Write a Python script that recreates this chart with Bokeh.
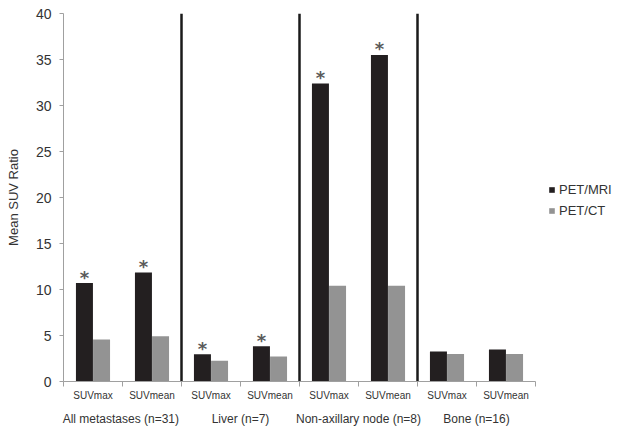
from bokeh.plotting import figure
from bokeh.models import (ColumnDataSource, FixedTicker, LinearAxis, Legend,
                          LegendItem, Range1d)
from bokeh.transform import dodge
from bokeh.core.properties import value
from bokeh.embed import file_html
from bokeh.resources import INLINE

# ---- data ----
measures = ["SUVmax", "SUVmean", "SUVmax", "SUVmean",
            "SUVmax", "SUVmean", "SUVmax", "SUVmean"]
groups = ["All metastases  (n=31)", "Liver (n=7)",
          "Non-axillary node (n=8)", "Bone (n=16)"]
pet_mri = [10.7, 11.85, 2.97, 3.84, 32.4, 35.5, 3.26, 3.48]
pet_ct = [4.56, 4.93, 2.25, 2.72, 10.4, 10.4, 3.0, 3.0]
significant = [True, True, True, True, True, True, False, False]
y_ticks = [0, 5, 10, 15, 20, 25, 30, 35, 40]

FONT = "Liberation Sans"
TXT = "#333333"
AX = "#a0a0a0"

pos = [i + 0.5 for i in range(len(measures))]
src = ColumnDataSource(dict(x=pos, mri=pet_mri, ct=pet_ct))
sig_x = [pos[i] for i in range(len(pos)) if significant[i]]
sig_y = [pet_mri[i] for i in range(len(pos)) if significant[i]]
star_src = ColumnDataSource(dict(x=sig_x, y=sig_y, t=["*"] * len(sig_x)))

p = figure(frame_width=472, frame_height=368,
           x_range=Range1d(0, len(measures)), y_range=Range1d(0, 40),
           output_backend="svg", toolbar_location=None,
           min_border_left=63, min_border_right=85,
           min_border_top=13, min_border_bottom=51)
p.grid.visible = False
p.outline_line_color = None
p.background_fill_color = "white"
p.border_fill_color = "white"

bw = 0.288
r_mri = p.vbar(x=dodge("x", -0.145, range=p.x_range), top="mri", width=bw,
               source=src, fill_color="#231f20", line_color=None)
r_ct = p.vbar(x=dodge("x", 0.145, range=p.x_range), top="ct", width=bw,
              source=src, fill_color="#939393", line_color=None)

p.text(x=dodge("x", -0.145, range=p.x_range), y="y", text="t", source=star_src,
       text_font=value("DejaVu Sans"), text_font_size="18px",
       text_font_style="bold",
       text_color="#5a5a5a", text_align="center", text_baseline="middle",
       y_offset=-6)

# group separators
sep_x = [2, 4, 6]
p.segment(x0=sep_x, x1=sep_x, y0=[0] * 3, y1=[40] * 3,
          line_color="#1a1a1a", line_width=2.5)

# y axis
ya = p.yaxis[0]
ya.ticker = FixedTicker(ticks=y_ticks)
ya.axis_label = "Mean SUV Ratio"
ya.axis_label_text_font = FONT
ya.axis_label_text_font_size = "13px"
ya.axis_label_text_font_style = "normal"
ya.axis_label_text_color = TXT
ya.axis_label_standoff = 12
ya.major_label_text_font = FONT
ya.major_label_text_font_size = "14px"
ya.major_label_text_color = TXT
ya.major_label_standoff = 8
ya.axis_line_color = AX
ya.major_tick_line_color = AX
ya.major_tick_out = 4
ya.major_tick_in = 0
ya.minor_tick_line_color = None

# x axis: measure labels + boundary ticks
xa = p.xaxis[0]
xa.ticker = FixedTicker(ticks=pos, minor_ticks=list(range(len(measures) + 1)))
xa.major_label_overrides = {pos[i]: measures[i] for i in range(len(pos))}
xa.major_label_text_font = FONT
xa.major_label_text_font_size = "10px"
xa.major_label_text_color = TXT
xa.major_label_standoff = 3
xa.major_tick_line_color = None
xa.major_tick_out = 0
xa.major_tick_in = 0
xa.minor_tick_line_color = AX
xa.minor_tick_out = 5
xa.minor_tick_in = 0
xa.axis_line_color = AX

# x axis 2: group labels
gpos = [1, 3, 5, 7]
xa2 = LinearAxis(ticker=FixedTicker(ticks=gpos, minor_ticks=[]),
                 major_label_overrides={gpos[i]: groups[i] for i in range(4)})
xa2.axis_line_color = None
xa2.major_tick_line_color = None
xa2.minor_tick_line_color = None
xa2.major_tick_out = 0
xa2.major_tick_in = 0
xa2.major_label_text_font = FONT
xa2.major_label_text_font_size = "12px"
xa2.major_label_text_color = TXT
xa2.major_label_standoff = 8
p.add_layout(xa2, "below")

legend = Legend(items=[LegendItem(label="PET/MRI", renderers=[r_mri]),
                       LegendItem(label="PET/CT", renderers=[r_ct])],
                location=(13, 163), orientation="vertical")
legend.border_line_color = None
legend.background_fill_alpha = 0
legend.padding = 0
legend.margin = 0
legend.spacing = 6
legend.glyph_width = 7
legend.glyph_height = 7
legend.label_height = 15
legend.label_standoff = 4
legend.label_text_font = FONT
legend.label_text_font_size = "13px"
legend.label_text_color = TXT
p.add_layout(legend, "right")

open("out.html", "w").write(file_html(p, INLINE))
